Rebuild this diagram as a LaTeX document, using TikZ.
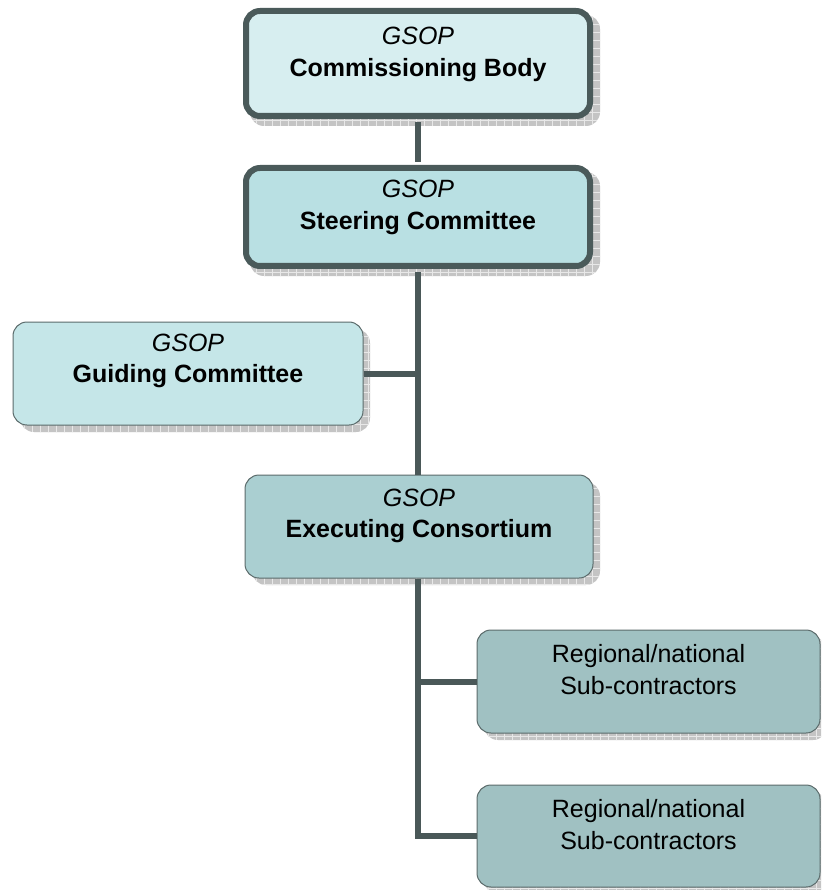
\documentclass[tikz,border=0pt]{standalone}
\usepackage{fontspec}
\setmainfont{Liberation Sans}
\definecolor{edgec}{HTML}{4A5A5A}
\definecolor{thinedge}{HTML}{5B6B6B}
\definecolor{connc}{HTML}{4A5858}
\definecolor{fillA}{HTML}{D7EEF0}
\definecolor{fillB}{HTML}{B9E0E3}
\definecolor{fillC}{HTML}{C5E6E8}
\definecolor{fillD}{HTML}{AACFD1}
\definecolor{fillE}{HTML}{A0C1C2}
\definecolor{shadowgray}{HTML}{C4C4C4}
\definecolor{gridc}{HTML}{E8E8E8}
\newcommand\boxshadow[4]{%
  \begin{scope}
    \clip[rounded corners=14pt] (#1+7,#2+7) rectangle (#3+7,#4+7);
    \fill[shadowgray] (#1,#2) rectangle (#3+9,#4+9);
    \foreach \gx in {0,8,...,824} \draw[gridc, line width=0.8pt] (\gx,#2) -- (\gx,#4+9);
    \foreach \gy in {0,8,...,896} \draw[gridc, line width=0.8pt] (#1,\gy) -- (#3+9,\gy);
  \end{scope}}
\tikzset{
  orgbox/.style={rectangle, rounded corners=14pt, draw=thinedge, line width=1pt, inner sep=0pt},
  thickbox/.style={orgbox, draw=edgec, line width=6pt},
  lbl/.style={align=center, font=\fontsize{25}{31.5}\selectfont, anchor=north, inner sep=0pt},
  conn/.style={draw=connc, line width=6pt, line join=miter}
}
\begin{document}
\begin{tikzpicture}[x=1pt, y=-1pt]
\useasboundingbox (0,0) rectangle (821,890);
\clip (0,0) rectangle (821,890);
\fill[white] (0,0) rectangle (821,890);

% shadows
\boxshadow{243}{8}{593}{119}
\boxshadow{243}{165}{593}{269}
\boxshadow{13}{322}{363}{425}
\boxshadow{245}{475}{593}{578}
\boxshadow{477}{630}{820}{733}
\boxshadow{477}{785}{820}{887}

% boxes
\node[thickbox, fill=fillA, minimum width=344pt, minimum height=105pt] (A) at (418,63.5) {};
\node[thickbox, fill=fillB, minimum width=344pt, minimum height=98pt] (B) at (418,217) {};
\node[orgbox, fill=fillC, minimum width=350pt, minimum height=103pt] (C) at (188,373.5) {};
\node[orgbox, fill=fillD, minimum width=348pt, minimum height=103pt] (D) at (419,526.5) {};
\node[orgbox, fill=fillE, minimum width=343pt, minimum height=103pt] (E) at (648.5,681.5) {};
\node[orgbox, fill=fillE, minimum width=343pt, minimum height=102pt] (F) at (648.5,836) {};

% connectors
\draw[conn] ([yshift=-3pt]A.south) -- ([yshift=3pt]B.north);
\draw[conn] ([yshift=-3pt]B.south -| 418,0) -- (D.north -| 418,0);
\draw[conn] (C.east) -- (C.east -| 418,0);
\draw[conn] (D.south -| 418,0) |- (F.west);
\draw[conn] (E.west) -- (E.west -| 418,0);

% texts
\node[lbl] (At) at ([yshift=-19pt]A.north) {\itshape GSOP\\\bfseries Commissioning Body};
\node[lbl] (Bt) at ([yshift=-15pt]B.north) {\itshape GSOP\\\bfseries Steering Committee};
\node[lbl] (Ct) at ([yshift=-12pt]C.north) {\itshape GSOP\\\bfseries Guiding Committee};
\node[lbl] (Dt) at ([yshift=-14pt]D.north) {\itshape GSOP\\\bfseries Executing Consortium};
\node[lbl] (Et) at ([yshift=-15pt]E.north) {Regional/national\\Sub-contractors};
\node[lbl] (Ft) at ([yshift=-15pt]F.north) {Regional/national\\Sub-contractors};
\end{tikzpicture}
\end{document}
